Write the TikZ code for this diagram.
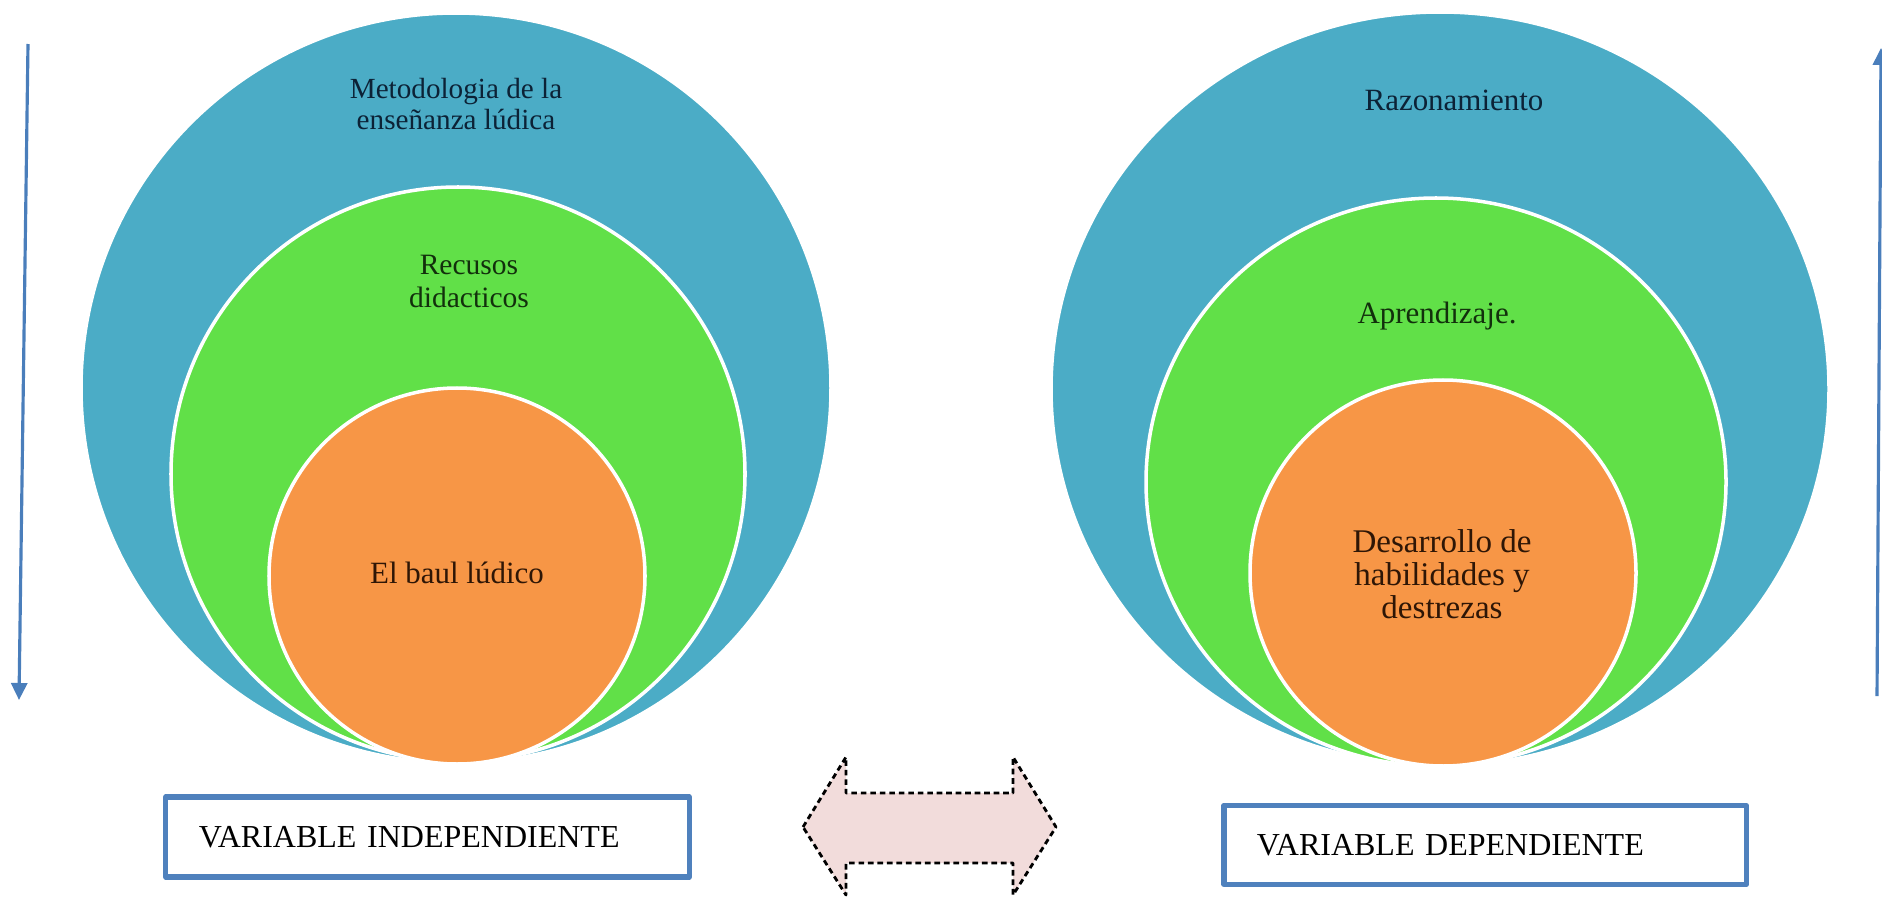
\documentclass[tikz,border=0pt]{standalone}
\usepackage{fontspec}
\setmainfont{Liberation Serif}
\usetikzlibrary{arrows.meta}

\definecolor{capaext}{HTML}{4BACC6}
\definecolor{capamed}{HTML}{61E048}
\definecolor{capaint}{HTML}{F79646}
\definecolor{marco}{HTML}{4F81BD}
\definecolor{flecha}{HTML}{4A7EBB}
\definecolor{rosa}{HTML}{F2DCDB}
\definecolor{tinta1}{HTML}{0C2236}
\definecolor{tinta2}{HTML}{12300C}
\definecolor{tinta3}{HTML}{2E1606}

\begin{document}
\begin{tikzpicture}[x=0.01cm, y=0.01cm, line join=round,
    disco/.style={draw=white, line width=1pt},
    txt/.style={font=\fontsize{8.8}{9.2}\selectfont, align=center},
    caja/.style={draw=marco, line width=1.5pt, inner xsep=0.33cm,
      align=left, font=\fontsize{9.1}{9.4}\selectfont},
    vert/.style={draw=flecha, line width=0.9pt,
      -{Triangle[length=0.17cm, width=0.16cm]}}]
  \useasboundingbox (0,0) rectangle (1882,-897);

  % variable independiente
  \filldraw[disco, fill=capaext] (456,-388) circle [radius=375];
  \filldraw[disco, fill=capamed] (458,-474) circle [radius=287];
  \filldraw[disco, fill=capaint] (457,-576) circle [radius=188];
  \node[txt, text=tinta1, font=\fontsize{8.3}{8.9}\selectfont] (met)
    at (456,-104) {Metodologia de la\\enseñanza lúdica};
  \node[txt, text=tinta2, font=\fontsize{8.4}{9.4}\selectfont] (rec)
    at (469,-281) {Recusos\\didacticos};
  \node[txt, text=tinta3] (baul) at (457,-573) {El baul lúdico};

  % variable dependiente
  \filldraw[disco, fill=capaext] (1440,-389) circle [x radius=389, y radius=377];
  \filldraw[disco, fill=capamed] (1436,-482) circle [x radius=290, y radius=284];
  \filldraw[disco, fill=capaint] (1443,-573) circle [radius=193];
  \node[txt, text=tinta1] (raz) at (1454,-100) {Razonamiento};
  \node[txt, text=tinta2] (apr) at (1437,-316) {Aprendizaje.};
  \node[txt, text=tinta3, font=\fontsize{9.4}{9.4}\selectfont] (des)
    at (1442,-574) {Desarrollo de\\habilidades y\\destrezas};

  % cajas
  \node[caja, minimum width=5.23cm, minimum height=0.8cm, text width=4.57cm]
    (vi) at (427.5,-837) {VARIABLE INDEPENDIENTE};
  \node[caja, minimum width=5.22cm, minimum height=0.79cm, text width=4.56cm]
    (vd) at (1485,-845) {VARIABLE DEPENDIENTE};

  % flechas laterales
  \coordinate (li1) at (28,-44);
  \coordinate (li2) at (19,-700);
  \coordinate (ld1) at (1877,-696);
  \coordinate (ld2) at (1881,-48);
  \draw[vert] (li1) -- (li2);
  \draw[vert] (ld1) -- (ld2);

  % doble flecha
  \draw[fill=rosa, line width=0.8pt, dash pattern=on 1.6pt off 1.1pt]
    (803,-827) -- (846,-757) -- (846,-793) -- (1013,-793) -- (1013,-757)
    -- (1056,-827) -- (1013,-895) -- (1013,-863) -- (846,-863)
    -- (846,-895) -- cycle;
\end{tikzpicture}
\end{document}
